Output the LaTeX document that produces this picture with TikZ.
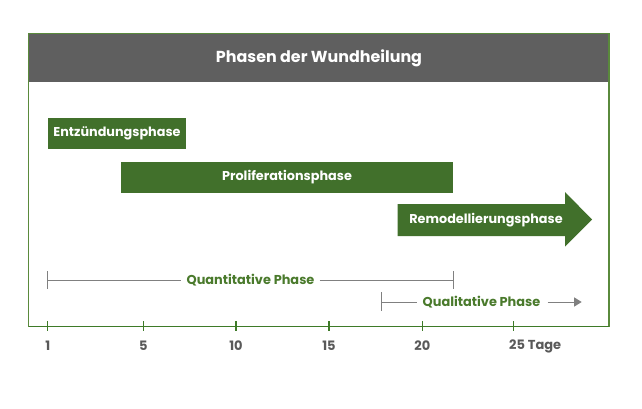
\documentclass[tikz,border=0pt]{standalone}
\usepackage{fontspec}
\setmainfont{Poppins}
\usetikzlibrary{arrows.meta}
\definecolor{boxgreen}{HTML}{41702B}
\definecolor{framegreen}{HTML}{5A8A3C}
\definecolor{axisgreen}{HTML}{3E7A28}
\definecolor{headgrey}{HTML}{5F5F5F}
\definecolor{labgrey}{HTML}{595959}
\definecolor{brackgrey}{HTML}{808080}
\definecolor{txtgreen}{HTML}{4A7A2C}
\tikzset{
  phasebox/.style={fill=boxgreen, text=white, font=\bfseries\fontsize{12.8}{15}\selectfont, inner sep=0pt, anchor=center},
  axlabel/.style={text=labgrey, font=\bfseries\fontsize{13}{15}\selectfont, inner sep=0pt},
  rangelab/.style={text=txtgreen, font=\bfseries\fontsize{12.9}{15}\selectfont, inner sep=0pt},
  bracket/.style={draw=brackgrey, line width=1pt},
  axtick/.style={draw=axisgreen, line width=1.5pt},
}
\begin{document}
\begin{tikzpicture}[x=1pt,y=-1pt]
\useasboundingbox (0,0) rectangle (642,409);
% header
\fill[headgrey] (28.7,33.3) rectangle (609,82);
\node[text=white, font=\bfseries\fontsize{15.9}{18}\selectfont, inner sep=0pt] (title) at (319,58) {Phasen der Wundheilung};
% frame
\draw[framegreen, line width=1.5pt] (28.7,326.7) -- (28.7,33.3) -- (609,33.3) -- (609,326.7);
% phases
\node[phasebox, minimum width=137.4pt, minimum height=31pt] (entz) at (117,133.8) {Entzündungsphase};
\node[phasebox, minimum width=332.6pt, minimum height=31pt] (prolif) at (287,177.2) {Proliferationsphase};
\fill[boxgreen] (397.7,204) -- (565,204) -- (565,192) -- (592,219.5) -- (565,246.7) -- (565,236) -- (397.7,236) -- cycle;
\node[phasebox, fill=none] (remod) at (486,220) {Remodellierungsphase};
% quantitative
\coordinate (qL) at (47.7,280);
\coordinate (qR) at (453.3,280);
\node[rangelab] (quant) at (250.5,280) {Quantitative Phase};
\draw[bracket] (qL) -- ([xshift=-5pt]quant.west);
\draw[bracket] ([xshift=5pt]quant.east) -- (qR);
\draw[bracket] ([yshift=-8.5pt]qL) -- ([yshift=9.5pt]qL);
\draw[bracket] ([yshift=-8.5pt]qR) -- ([yshift=9.5pt]qR);
% qualitative
\coordinate (ql) at (381,302);
\coordinate (qEnd) at (581.7,302);
\node[rangelab] (qual) at (481.5,302) {Qualitative Phase};
\draw[bracket] (ql) -- ([xshift=-5pt]qual.west);
\draw[bracket, -{Triangle[length=7.5pt,width=9pt]}] ([xshift=7pt]qual.east) -- (qEnd);
\draw[bracket] ([yshift=-8.7pt]ql) -- ([yshift=9.7pt]ql);
% axis
\draw[axtick] (28.7,326.7) -- (609,326.7);
\foreach \x/\n in {47.7/t1, 143.3/t5, 236/t10, 329/t15, 422.3/t20, 513.3/t25} {
  \coordinate (\n) at (\x,326.7);
  \draw[axtick] ([yshift=-4pt]\n) -- ([yshift=6pt]\n);
}
\node[axlabel] (l1) at (47.7,346) {1};
\node[axlabel] (l5) at (143.3,346) {5};
\node[axlabel] (l10) at (236,346) {10};
\node[axlabel] (l15) at (329,346) {15};
\node[axlabel] (l20) at (422.3,346) {20};
\node[axlabel, anchor=west] (l25) at (509,346) {25 Tage};
\end{tikzpicture}
\end{document}
